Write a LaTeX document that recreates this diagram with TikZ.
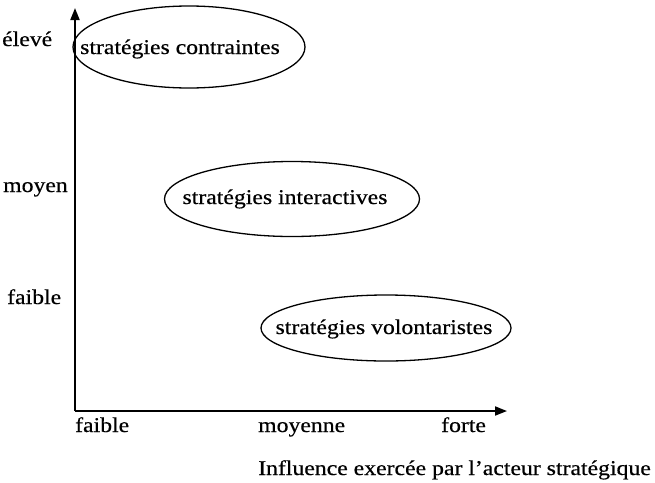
\documentclass[tikz,border=0pt]{standalone}
\usepackage{fontspec}
\setmainfont{Liberation Serif}[FakeStretch=1.13,FakeBold=0.5]
\usetikzlibrary{shapes.geometric,arrows.meta}
\begin{document}
\begin{tikzpicture}[x=1pt,y=-1pt,
  lab/.style={font=\fontsize{21}{24}\selectfont, inner sep=0pt, anchor=base west},
  oval/.style={draw, ellipse, line width=1.3pt, inner sep=0pt},
  otext/.style={font=\fontsize{21}{24}\selectfont, inner sep=0pt, anchor=base},
  axis/.style={line width=1.8pt, -{Triangle[length=12pt,width=9pt]}}]
\useasboundingbox (0,0) rectangle (655,482);
\coordinate (O) at (75,411);
\coordinate (ytip) at (75,8);
\coordinate (xtip) at (507,411);
\draw[axis] (O) -- (ytip);
\draw[axis] (O) -- (xtip);
\node[lab] (ly1) at (2,46) {élevé};
\node[lab] (ly2) at (3,192) {moyen};
\node[lab] (ly3) at (7,304) {faible};
\node[lab] (lx1) at (75,432) {faible};
\node[lab] (lx2) at (258,432) {moyenne};
\node[lab] (lx3) at (441,432) {forte};
\node[lab] (title) at (258,475) {Influence exercée par l’acteur stratégique};
\node[oval, minimum width=232pt, minimum height=82pt] (e1) at (189,47) {};
\node[oval, minimum width=255pt, minimum height=75pt] (e2) at (292,199) {};
\node[oval, minimum width=250pt, minimum height=66pt] (e3) at (386,328) {};
\node[otext] (t1) at (180,54) {stratégies contraintes};
\node[otext] (t2) at (285,204) {stratégies interactives};
\node[otext] (t3) at (384,334) {stratégies volontaristes};
\end{tikzpicture}
\end{document}
